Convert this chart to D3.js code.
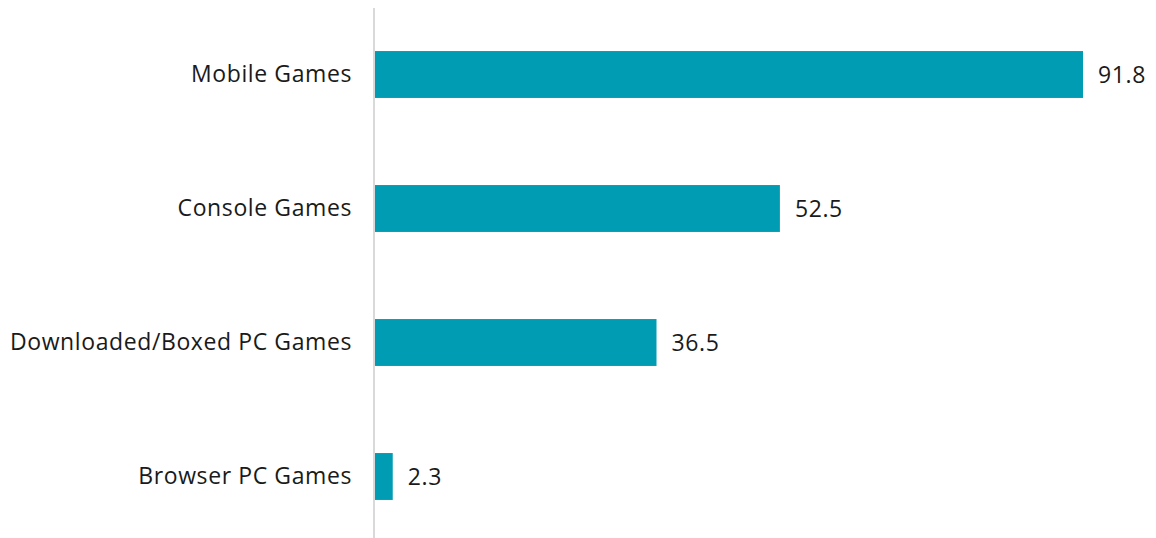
<!DOCTYPE html>
<html>
<head>
<meta charset="utf-8">
<script src="https://cdn.jsdelivr.net/npm/d3@7"></script>
<style>
  body { margin: 0; background: #fff; }
  svg text { font-family: 'Open Sans', sans-serif; fill: #1a1a1a; font-size: 23px; letter-spacing: 0.6px; }
</style>
</head>
<body>
<svg></svg>
<script>
// chart data
const categories = ['Mobile Games', 'Console Games', 'Downloaded/Boxed PC Games', 'Browser PC Games']
const values = [91.8, 52.5, 36.5, 2.3]

const width = 1156
const height = 538
const axisX = 374

const svg = d3.select('svg')
  .attr('width', width)
  .attr('height', height)

const xScale = d3.scaleLinear()
  .domain([0, 91.8])
  .range([axisX + 1, 1083])

const yScale = d3.scaleBand()
  .domain(categories)
  .range([7.5, 543.5])
  .paddingInner(0.65)
  .paddingOuter(0.325)

// bars
svg.selectAll('rect.bar')
  .data(values)
  .enter()
  .append('rect')
  .attr('class', 'bar')
  .attr('x', xScale(0))
  .attr('y', (d, i) => yScale(categories[i]))
  .attr('width', (d) => xScale(d) - xScale(0))
  .attr('height', yScale.bandwidth())
  .attr('fill', '#009cb4')

// value labels
svg.selectAll('text.val')
  .data(values)
  .enter()
  .append('text')
  .attr('class', 'val')
  .attr('x', (d) => xScale(d) + 15)
  .attr('y', (d, i) => yScale(categories[i]) + yScale.bandwidth() / 2)
  .attr('dy', '0.35em')
  .text((d) => d.toFixed(1))

// category axis
const yAxis = d3.axisLeft(yScale).tickSize(0).tickPadding(22)
const g = svg.append('g')
  .attr('transform', 'translate(' + axisX + ', 0)')
  .call(yAxis)
g.select('.domain').remove()
g.selectAll('text')
  .style('font-size', '23px')
  .attr('fill', '#1a1a1a')
  .style('font-family', "'Open Sans', sans-serif")

svg.append('line')
  .attr('x1', axisX).attr('x2', axisX)
  .attr('y1', 8).attr('y2', height)
  .attr('stroke', '#d9d9d9')
  .attr('stroke-width', 2)
</script>
</body>
</html>
